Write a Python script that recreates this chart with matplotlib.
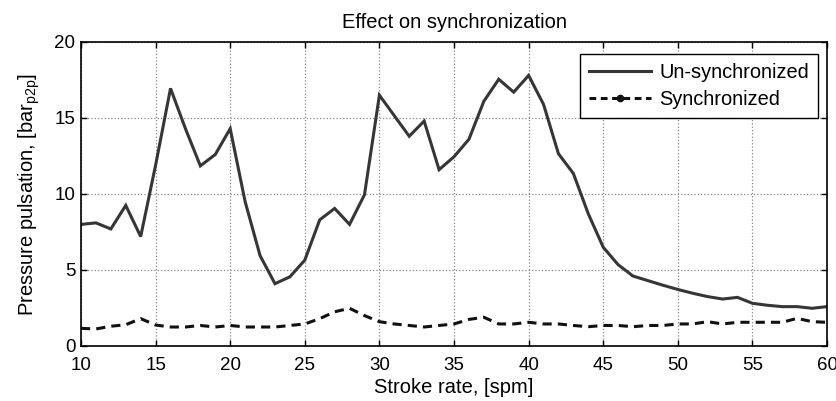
import matplotlib
matplotlib.use("Agg")
import matplotlib.pyplot as plt
from matplotlib.lines import Line2D
import numpy as np

plt.rcParams['font.family'] = ['Liberation Sans', 'DejaVu Sans']

stroke_rate = list(range(10, 61))
unsync = [8.0, 8.1, 7.7, 9.25, 7.2, 11.9, 16.95, 14.3, 11.85, 12.6,
          14.3, 9.5, 5.95, 4.1, 4.55, 5.65, 8.3, 9.05, 8.0, 9.95,
          16.5, 15.15, 13.8, 14.8, 11.6, 12.45, 13.6, 16.1, 17.55, 16.7,
          17.8, 15.9, 12.65, 11.35, 8.7, 6.5, 5.35, 4.6, 4.3, 4.0,
          3.72, 3.47, 3.25, 3.09, 3.2, 2.81, 2.68, 2.59, 2.59, 2.48, 2.59]
sync = [1.16, 1.12, 1.3, 1.4, 1.8, 1.38, 1.25, 1.25, 1.35, 1.25,
        1.35, 1.25, 1.25, 1.25, 1.35, 1.45, 1.8, 2.25, 2.48, 2.0,
        1.6, 1.45, 1.35, 1.25, 1.35, 1.45, 1.75, 1.89, 1.45, 1.45,
        1.56, 1.45, 1.45, 1.35, 1.27, 1.35, 1.35, 1.27, 1.35, 1.35,
        1.45, 1.45, 1.6, 1.45, 1.56, 1.56, 1.56, 1.56, 1.82, 1.6, 1.56]

x_ticks = [10, 15, 20, 25, 30, 35, 40, 45, 50, 55, 60]
y_ticks = [0, 5, 10, 15, 20]

fig = plt.figure(figsize=(8.37, 4.01), dpi=100)
ax = fig.add_axes([81/837, 1-346/401, (827-81)/837, (346-42)/401])

ax.plot(stroke_rate, unsync, color='#363636', lw=2.2, solid_joinstyle='miter')
ax.plot(stroke_rate, sync, color='#111111', lw=2.2, ls=(0, (3, 2)))

ax.set_xlim(10, 60)
ax.set_ylim(0, 20)
ax.set_xticks(x_ticks)
ax.set_yticks(y_ticks)
ax.tick_params(direction='in', length=4, width=1, top=True, right=True,
               labelsize=13.5, colors='black')
ax.tick_params(axis='x', pad=8)
ax.tick_params(axis='y', pad=4)
ax.grid(True, ls=':', color='#888888', lw=0.9)
for s in ax.spines.values():
    s.set_linewidth(1.2)
    s.set_color('black')

ax.set_title('Effect on synchronization', fontsize=14.5, pad=10)
ax.set_xlabel('Stroke rate, [spm]', fontsize=14.5, labelpad=3)
ax.set_ylabel('Pressure pulsation, [bar$_{\\mathregular{p2p}}$]', fontsize=14.5, labelpad=9)

handles = [Line2D([], [], color='#363636', lw=2.2),
           Line2D([], [], color='#111111', lw=2.2, ls=(0, (2.2, 1.5)), marker='o', markersize=4.5,
                  markevery=[1])]
leg = ax.legend(handles, ['Un-synchronized', 'Synchronized'], loc='upper right',
                bbox_to_anchor=(0.988, 0.9605), fancybox=False, framealpha=1,
                edgecolor='black', fontsize=14.4, handlelength=3.1, borderpad=0.45,
                labelspacing=0.42, handletextpad=0.4, borderaxespad=0)
leg.get_frame().set_linewidth(1.0)

fig.savefig('out.png', dpi=100)
